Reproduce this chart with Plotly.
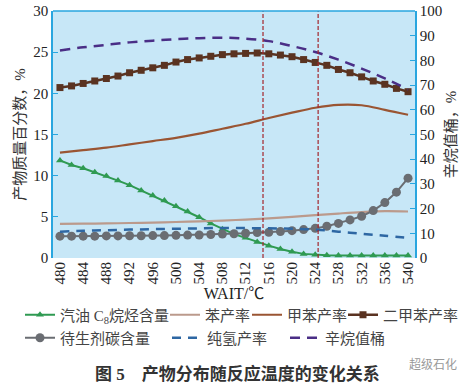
import plotly.graph_objects as go

# ---- data ----
temps_fine = [480, 482, 484, 486, 488, 490, 492, 494, 496, 498, 500, 502, 504, 506, 508, 510,
              512, 514, 516, 518, 520, 522, 524, 526, 528, 530, 532, 534, 536, 538, 540]
temps_coarse = [480, 484, 488, 492, 496, 500, 504, 508, 512, 516, 520, 524, 528, 532, 536, 540]

c8_paraffin = [11.85, 11.3, 10.9, 10.4, 9.95, 9.4, 8.85, 8.2, 7.6, 6.98, 6.3, 5.64, 4.95, 4.2, 3.5, 2.9,
               2.45, 1.95, 1.5, 1.1, 0.75, 0.5, 0.38, 0.32, 0.3, 0.3, 0.3, 0.3, 0.3, 0.3, 0.3]
xylene = [20.7, 20.9, 21.2, 21.5, 21.8, 22.1, 22.5, 22.8, 23.1, 23.4, 23.8, 24.1, 24.3, 24.5, 24.7, 24.8,
          24.85, 24.9, 24.8, 24.65, 24.45, 24.1, 23.75, 23.4, 22.9, 22.5, 22.0, 21.5, 21.1, 20.6, 20.2]
coke = [2.65, 2.65, 2.65, 2.65, 2.68, 2.68, 2.7, 2.7, 2.72, 2.72, 2.75, 2.78, 2.8, 2.85, 2.9, 2.95,
        3.0, 3.1, 3.12, 3.22, 3.32, 3.45, 3.6, 3.85, 4.2, 4.63, 5.07, 5.76, 6.73, 8.0, 9.7]
benzene = [4.15, 4.17, 4.2, 4.25, 4.3, 4.37, 4.45, 4.55, 4.67, 4.82, 5.0, 5.2, 5.4, 5.58, 5.7, 5.65]
toluene = [12.8, 13.1, 13.4, 13.8, 14.2, 14.6, 15.1, 15.7, 16.3, 17.0, 17.65, 18.25, 18.6, 18.55, 18.0, 17.4]
hydrogen = [3.2, 3.3, 3.38, 3.45, 3.5, 3.55, 3.6, 3.65, 3.63, 3.6, 3.55, 3.45, 3.2, 2.95, 2.7, 2.45]
octane_barrel = [84, 85.3, 86.3, 87.3, 88, 88.6, 89, 89.2, 88.8, 87.8, 85.8, 83.4, 80.3, 76.7, 72.7, 68.2]

ref_temps = [515, 524.5]
x_ticks = [480, 484, 488, 492, 496, 500, 504, 508, 512, 516, 520, 524, 528, 532, 536, 540]
y_left_ticks = [0, 5, 10, 15, 20, 25, 30]
y_right_ticks = [0, 10, 20, 30, 40, 50, 60, 70, 80, 90, 100]

names = ["汽油 C<sub>8</sub>烷烃含量", "苯产率", "甲苯产率", "二甲苯产率",
         "待生剂碳含量", "纯氢产率", "辛烷值桶"]

SERIF = "Liberation Serif, Noto Sans CJK SC, serif"
AX = "#29a6df"

W, H = 470, 385
ML, MR, MT, MB = 53, 55, 11, 127
PW, PH = W - ML - MR, H - MT - MB


def px_x(px):
    return (px - ML) / PW


def px_y(py):
    return (H - MB - py) / PH


fig = go.Figure()
fig.add_trace(go.Scatter(x=temps_fine, y=c8_paraffin, name=names[0], mode="lines+markers",
                         line=dict(color="#2f9a52", width=2),
                         marker=dict(symbol="triangle-up", size=7, color="#2f9a52"),
                         legend="legend"))
fig.add_trace(go.Scatter(x=temps_coarse, y=benzene, name=names[1], mode="lines",
                         line=dict(color="#bb9a8c", width=2.2, shape="spline"), legend="legend2"))
fig.add_trace(go.Scatter(x=temps_coarse, y=toluene, name=names[2], mode="lines",
                         line=dict(color="#9a5533", width=2.2, shape="spline"), legend="legend3"))
fig.add_trace(go.Scatter(x=temps_fine, y=xylene, name=names[3], mode="lines+markers",
                         line=dict(color="#5a3321", width=2.5),
                         marker=dict(symbol="square", size=7, color="#5a3321"), legend="legend4"))
fig.add_trace(go.Scatter(x=temps_fine, y=coke, name=names[4], mode="lines+markers",
                         line=dict(color="#6a6d72", width=2),
                         marker=dict(symbol="circle", size=9, color="#6a6d72"), legend="legend5"))
fig.add_trace(go.Scatter(x=temps_coarse, y=hydrogen, name=names[5], mode="lines",
                         line=dict(color="#2e67a3", width=2.5, dash="9px,7px", shape="spline"),
                         legend="legend6"))
fig.add_trace(go.Scatter(x=temps_coarse, y=octane_barrel, name=names[6], mode="lines", yaxis="y2",
                         line=dict(color="#4a2e86", width=2.5, dash="10px,7px", shape="spline"),
                         legend="legend7"))

for t in ref_temps:
    fig.add_shape(type="line", x0=t, x1=t, xref="x", y0=0, y1=1, yref="paper",
                  line=dict(color="#a4262c", width=1.2, dash="4px,2px"))
fig.add_shape(type="line", x0=0, x1=1, xref="paper", y0=1, y1=1, yref="paper",
              line=dict(color=AX, width=1.5))

legend_font = dict(family=SERIF, size=15, color="#444444")
# legend item left edges (px) and row centres (px)
legend_pos = [(20, 315), (165, 315), (247, 315), (343, 315),
              (20, 338), (167, 338), (285, 338)]
legends = {}
for i, (lx, ly) in enumerate(legend_pos):
    key = "legend" if i == 0 else f"legend{i + 1}"
    legends[key] = dict(orientation="h", x=px_x(lx), xanchor="left", y=px_y(ly), yanchor="middle",
                        font=legend_font, bgcolor="rgba(0,0,0,0)", itemwidth=30,
                        borderwidth=0)

fig.update_layout(
    width=W, height=H,
    margin=dict(l=ML, r=MR, t=MT, b=MB, autoexpand=False),
    paper_bgcolor="white",
    plot_bgcolor="#c7e7f7",
    showlegend=True,
    xaxis=dict(range=[478.8, 541.2], tickvals=x_ticks, tickangle=-90,
               showgrid=False, zeroline=False, showline=False,
               ticks="", tickfont=dict(family=SERIF, size=15, color="#222"),
               title=dict(text="WAIT/℃", font=dict(family=SERIF, size=16, color="#222"), standoff=4)),
    yaxis=dict(range=[0, 30], tickvals=y_left_ticks, showgrid=False, zeroline=False,
               showline=True, linecolor=AX, linewidth=1.5, ticks="inside", ticklen=5,
               tickcolor=AX, tickfont=dict(family=SERIF, size=15, color="#222"),
               title=dict(text="产物质量百分数，%", font=dict(family=SERIF, size=15, color="#333"),
                          standoff=4)),
    yaxis2=dict(range=[0, 100], tickvals=y_right_ticks, overlaying="y", side="right",
                showgrid=False, zeroline=False, showline=True, linecolor=AX, linewidth=1.5,
                ticks="inside", ticklen=5, tickcolor=AX,
                tickfont=dict(family=SERIF, size=15, color="#222"),
                title=dict(text="辛烷值桶，%", font=dict(family=SERIF, size=15, color="#333"),
                           standoff=4)),
    annotations=[
        dict(text="<b>图 5　产物分布随反应温度的变化关系</b>", xref="paper", yref="paper",
             x=px_x(237), y=px_y(374), xanchor="center", yanchor="middle", showarrow=False,
             font=dict(family=SERIF, size=17, color="#333")),
        dict(text="超级石化", xref="paper", yref="paper", x=px_x(433), y=px_y(363),
             xanchor="center", yanchor="middle", showarrow=False,
             font=dict(family="Noto Sans CJK SC", size=12, color="#999")),
    ],
    **legends,
)

fig.write_html("out.html", config={"displayModeBar": False},
               post_script="document.body.style.margin='0px';document.body.style.padding='0px';")
